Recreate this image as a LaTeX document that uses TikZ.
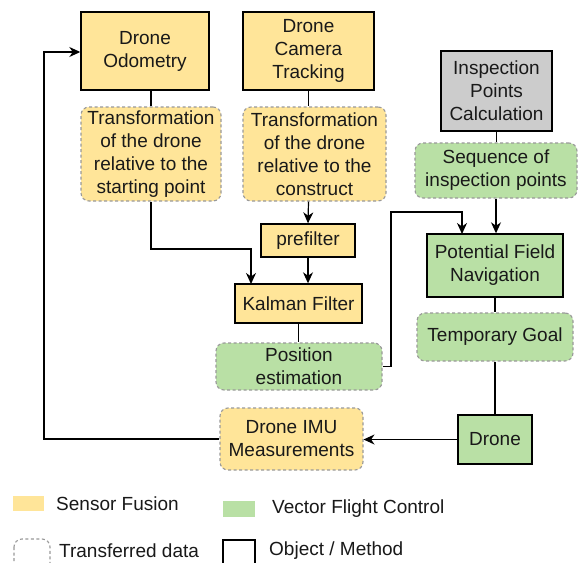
\documentclass[tikz,border=0pt]{standalone}
\usepackage{fontspec}
\setmainfont{Liberation Sans}
\usetikzlibrary{arrows.meta}
\definecolor{yel}{HTML}{FFE599}
\definecolor{grn}{HTML}{B9E0A5}
\definecolor{gry}{HTML}{CCCCCC}
\definecolor{dsh}{HTML}{999999}
\tikzset{
  every node/.style={font=\fontsize{19}{23}\selectfont, align=center, inner sep=0pt, text=black!90},
  objbox/.style={draw=black, line width=1.4pt, rectangle},
  databox/.style={draw=dsh, line width=1.1pt, dash pattern=on 3pt off 2.5pt, rounded corners=8pt, rectangle},
  conn/.style={draw=black, line width=1.2pt},
  arr/.style={conn, -{Stealth[length=11pt,width=10pt,inset=3.5pt]}},
  lbl/.style={anchor=west}
}
\begin{document}
\begin{tikzpicture}[x=1pt,y=-1pt]
\useasboundingbox (0,0) rectangle (578,562);
\clip (0,0) rectangle (578,562);
\fill[white] (0,0) rectangle (578,562);
% object boxes
\node[objbox, fill=yel, minimum width=128, minimum height=78] (odo) at (145,51) {Drone\\Odometry};
\node[objbox, fill=yel, minimum width=131, minimum height=78] (cam) at (308.5,51) {Drone\\Camera\\Tracking};
\node[objbox, fill=gry, minimum width=111, minimum height=80] (ipc) at (496.5,91) {Inspection\\Points\\Calculation};
\node[objbox, fill=yel, minimum width=94, minimum height=33] (pre) at (308,240.5) {prefilter};
\node[objbox, fill=yel, minimum width=127, minimum height=39] (kal) at (298.5,303.5) {Kalman Filter};
\node[objbox, fill=grn, minimum width=136, minimum height=63] (pfn) at (495,265.5) {Potential Field\\Navigation};
\node[objbox, fill=grn, minimum width=74, minimum height=49] (drone) at (495,439.5) {Drone};
% data boxes
\node[databox, fill=yel, minimum width=140, minimum height=94] (tr1) at (151,154) {Transformation\\of the drone\\relative to the\\starting point};
\node[databox, fill=yel, minimum width=143, minimum height=94] (tr2) at (314.5,154) {Transformation\\of the drone\\relative to the\\construct};
\node[databox, fill=grn, minimum width=162, minimum height=55] (seq) at (496,170.5) {Sequence of\\inspection points};
\node[databox, fill=grn, minimum width=166, minimum height=47] (pos) at (299,366.5) {Position\\estimation};
\node[databox, fill=grn, minimum width=156, minimum height=48] (tg) at (495,337) {Temporary Goal};
\node[databox, fill=yel, minimum width=143, minimum height=62] (imu) at (291.5,439) {Drone IMU\\Measurements};
% connectors
\draw[conn] (tr1.north) -- (tr1.north |- odo.south);
\draw[arr] (tr1.south) |- (251,249) -- (251,284);
\draw[conn] (cam.south) -- (cam.south |- tr2.north);
\draw[arr] (cam.south |- tr2.south) -- (pre.north);
\draw[arr] (pre.south) -- (pre.south |- kal.north);
\draw[conn] (kal.south) -- (kal.south |- pos.north);
\draw[arr] (pos.east) -| (391,212) -| (462,234);
\draw[conn] (ipc.south) -- (ipc.south |- seq.north);
\draw[arr] (seq.south) -- (seq.south |- pfn.north);
\draw[conn] (pfn.south) -- (pfn.south |- tg.north);
\draw[conn] (tg.south) -- (tg.south |- drone.north);
\draw[arr] (drone.west) -- (drone.west -| imu.east);
\draw[arr] (imu.west) -| (44,52) -- (odo.west |- 0,52);
% legend
\fill[yel] (13,496) rectangle (44,511);
\node[lbl] (lsf) at (56,504) {Sensor Fusion};
\fill[grn] (223,501) rectangle (255,517);
\node[lbl] (lvf) at (272,509) {Vector Flight Control};
\draw[databox] (14,539) rectangle (50,580);
\node[lbl] (ltd) at (59,551) {Transferred data};
\draw[objbox] (223,540) rectangle (255,580);
\node[lbl] (lom) at (269,551) {Object / Method};
\end{tikzpicture}
\end{document}
